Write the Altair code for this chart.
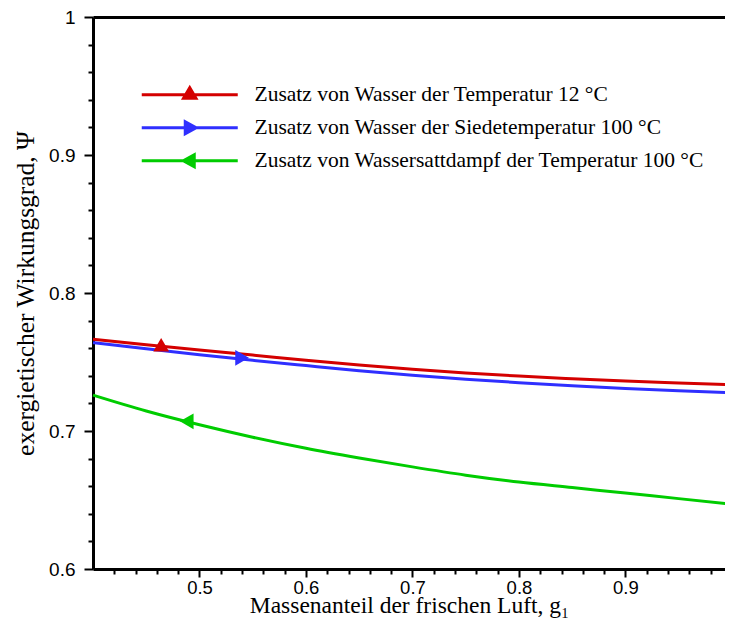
import altair as alt
import pandas as pd

# ---- data ----
g1 = [0.40, 0.45, 0.50, 0.55, 0.60, 0.65, 0.70, 0.75, 0.80, 0.85, 0.90, 0.95, 1.00]
psi_water12 = [0.7665, 0.7625, 0.7587, 0.7550, 0.7512, 0.7478, 0.7448, 0.7421, 0.7398, 0.7379, 0.7362, 0.7348, 0.7335]
psi_water100 = [0.7640, 0.7596, 0.7553, 0.7512, 0.7474, 0.7437, 0.7404, 0.7375, 0.7350, 0.7328, 0.7308, 0.7291, 0.7277]
psi_steam100 = [0.7260, 0.7145, 0.7045, 0.6955, 0.6875, 0.6805, 0.6740, 0.6680, 0.6630, 0.6590, 0.6550, 0.6510, 0.6470]

series_names = [
    "Zusatz von Wasser der Temperatur 12 °C",
    "Zusatz von Wasser der Siedetemperatur 100 °C",
    "Zusatz von Wassersattdampf der Temperatur 100 °C",
]
series_colors = ["#d40000", "#2f2fff", "#00cc00"]

marker_x = [0.464, 0.540, 0.488]
marker_y = [0.7625, 0.7530, 0.7070]
marker_shapes = ["triangle-up", "triangle-right", "triangle-left"]

# legend symbols: line segment with the series marker (1 unit = 10 px), clockwise subpaths
legend_paths = [
    "M-4.8,-0.15L4.8,-0.15L4.8,0.15L-4.8,0.15Z M-0.88,0.5L0,-1.0L0.88,0.5Z",
    "M-4.8,-0.15L4.8,-0.15L4.8,0.15L-4.8,0.15Z M-0.6,-0.85L0.95,0L-0.6,0.85Z",
    "M-4.8,-0.15L4.8,-0.15L4.8,0.15L-4.8,0.15Z M0.6,0.85L-0.95,0L0.6,-0.85Z",
]

x_ticks = [0.42, 0.44, 0.46, 0.48, 0.5, 0.52, 0.54, 0.56, 0.58, 0.6, 0.62, 0.64, 0.66, 0.68, 0.7,
           0.72, 0.74, 0.76, 0.78, 0.8, 0.82, 0.84, 0.86, 0.88, 0.9, 0.92, 0.94, 0.96, 0.98]
y_ticks = [0.6, 0.62, 0.64, 0.66, 0.68, 0.7, 0.72, 0.74, 0.76, 0.78, 0.8, 0.82, 0.84, 0.86, 0.88,
           0.9, 0.92, 0.94, 0.96, 0.98, 1.0]

rows = []
for name, vals in zip(series_names, [psi_water12, psi_water100, psi_steam100]):
    for xv, yv in zip(g1, vals):
        rows.append({"g1": xv, "psi": yv, "series": name})
df = pd.DataFrame(rows)

mk = pd.DataFrame({"g1": marker_x, "psi": marker_y, "series": series_names})

MAJOR = "abs(datum.value*10 - round(datum.value*10)) < 0.000001"

xscale = alt.Scale(domain=[0.4, 0.9935], nice=False, zero=False)
yscale = alt.Scale(domain=[0.6, 1.0], nice=False, zero=False)
cscale = alt.Scale(domain=series_names, range=series_colors)

x_axis = alt.Axis(
    values=x_ticks,
    labelExpr=f"({MAJOR}) && datum.value > 0.45 && datum.value < 0.95 ? format(datum.value, '.1f') : ''",
    tickSize={"condition": {"test": MAJOR, "value": 8}, "value": 5},
    tickWidth=2, tickColor="black",
    domainWidth=3, domainColor="black",
    labelFont="Liberation Sans", labelFontSize=18.5, labelColor="black", labelPadding=1,
    labelFlush=False, labelOverlap=False,
    title="Massenanteil der frischen Luft, g₁",
    titleFont="Liberation Serif", titleFontSize=23.5, titleFontWeight="normal", titleColor="black",
    titlePadding=-3, grid=False,
)
y_axis = alt.Axis(
    values=y_ticks,
    labelExpr=f"({MAJOR}) ? (datum.value > 0.99 ? '1' : format(datum.value, '.1f')) : ''",
    tickSize={"condition": {"test": MAJOR, "value": 9}, "value": 5},
    tickWidth=2, tickColor="black",
    domainWidth=3, domainColor="black",
    labelFont="Liberation Sans", labelFontSize=19, labelColor="black", labelPadding=9,
    labelFlush=False, labelOverlap=False,
    title="exergietischer Wirkungsgrad, Ψ",
    titleFont="Liberation Serif", titleFontSize=25.5, titleFontWeight="normal", titleColor="black",
    titlePadding=10, grid=False,
)
top_axis = alt.Axis(orient="top", labels=False, ticks=False, title=None, domainWidth=3,
                    domainColor="black", grid=False)

lines = alt.Chart(df).mark_line(strokeWidth=3, interpolate="monotone").encode(
    x=alt.X("g1:Q", scale=xscale, axis=x_axis),
    y=alt.Y("psi:Q", scale=yscale, axis=y_axis),
    color=alt.Color("series:N", scale=cscale, legend=None),
    detail="series:N",
)

marker_layers = []
for name, shp in zip(series_names, marker_shapes):
    marker_layers.append(
        alt.Chart(mk).transform_filter(alt.datum.series == name)
        .mark_point(filled=True, size=250, opacity=1, strokeWidth=0, shape=shp)
        .encode(
            x=alt.X("g1:Q", scale=xscale, axis=None),
            y=alt.Y("psi:Q", scale=yscale, axis=None),
            color=alt.Color("series:N", scale=cscale, legend=None),
        )
    )

leg = dict(
    title=None, orient="none", legendX=86, legendY=67,
    symbolSize=400, symbolOpacity=1, symbolStrokeWidth=0,
    labelFont="Liberation Serif", labelFontSize=21.5, labelColor="black",
    labelOffset=54, rowPadding=10, padding=0, labelLimit=600,
)

legend_layer = alt.Chart(mk).mark_point(filled=True, size=400, opacity=0).encode(
    x=alt.X("g1:Q", scale=xscale, axis=top_axis),
    y=alt.Y("psi:Q", scale=yscale, axis=None),
    color=alt.Color("series:N", scale=cscale, legend=alt.Legend(**leg)),
    shape=alt.Shape("series:N", scale=alt.Scale(domain=series_names, range=legend_paths),
                    legend=alt.Legend(**leg)),
)

chart = (
    alt.layer(lines, *marker_layers, legend_layer)
    .resolve_axis(x="independent", y="independent")
    .resolve_legend(color="independent", shape="independent")
    .properties(
        width=632, height=552,
        autosize=alt.AutoSizeParams(type="none"),
        padding={"left": 85, "top": 9, "right": 0, "bottom": 51},
    )
    .configure_view(stroke=None)
    .configure(background="white")
)

chart.save("out.html", embed_options={"renderer": "svg", "actions": False})
